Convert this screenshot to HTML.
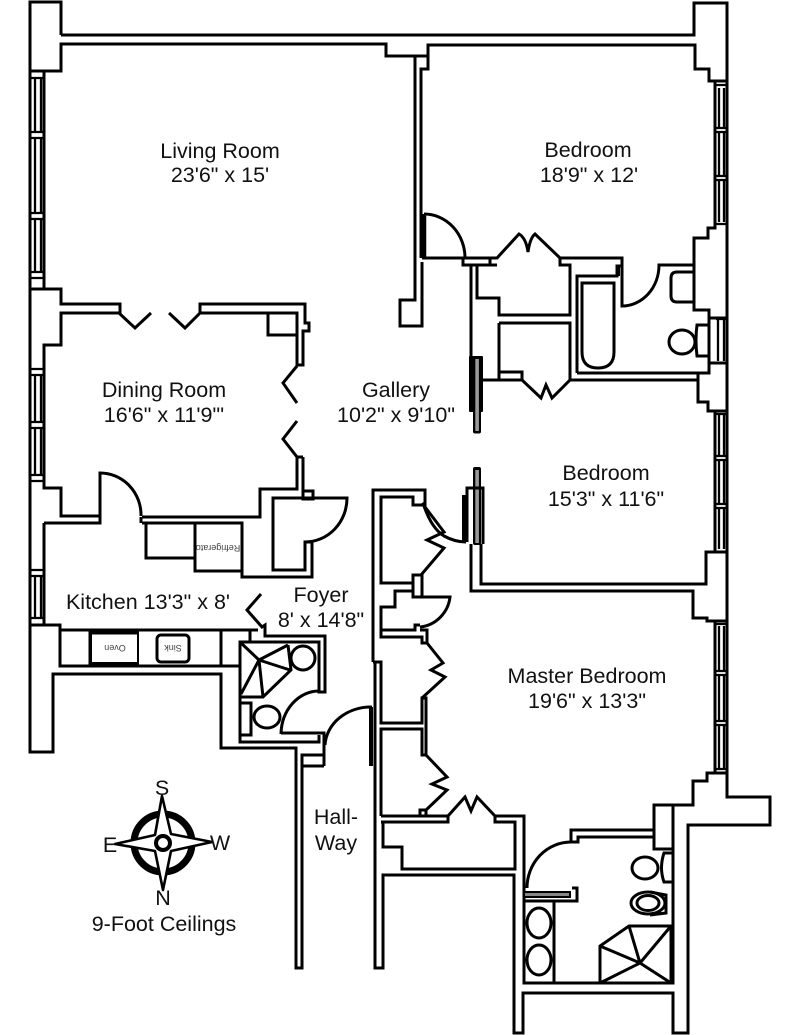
<!DOCTYPE html>
<html><head><meta charset="utf-8"><style>
html,body{margin:0;padding:0;background:#fff;width:800px;height:1035px;overflow:hidden}
svg{display:block}
text{font-family:"Liberation Sans",sans-serif;font-size:21.5px;fill:#111;text-anchor:middle}
.s{fill:none;stroke:#000;stroke-width:3;stroke-linejoin:miter}
</style></head><body>
<svg width="800" height="1035" viewBox="0 0 800 1035" xmlns="http://www.w3.org/2000/svg">
<g class="s">
<!-- outer top / right -->
<path d="M61,35V2H30V752H53V674H221V748H296V968H302V755H324V733H281M324,766H302V755M324,755V766"/>
<path d="M61,35H694V3H727V797H770V825H688V1033H673V993H523V1033H514V875H383V968H375V662"/>
<path d="M30,71H61V44H386V56H428V45H695V69H709V81H727"/>
<path d="M428,56V69H421V258"/>
<path d="M415,56V300H400V326H422V262"/>
<!-- dining -->
<path d="M44,72V289H30M44,289H61V304H120V314L135,328L151,313M169,313L185,328L200,313V304H305V323H309V331H303V365H297V313H200M120,313H61V345H44V488H61V516H100"/>
<path d="M44,523H100V473A41,42 0 0 1 141,516M141,517V523M142,517H260V489H297V457L283,439L297,421M297,403L283,383L297,366M303,457H297M303,457V491H313V499H303V491"/>
<path d="M268,314V335H297"/>
<path d="M44,523V625H30M44,625H60V666H240M60,630H258"/>
<path d="M90,630V666M221,630V666M250,630V642"/>
<!-- fridge, closet -->
<path d="M142,523H242V577H312V542H305V570H273V498H347A42,44 0 0 1 305,542"/>
<path d="M146,523V558H195V523M195,558V571H241"/>
<!-- foyer -->
<path d="M261,594L247,610L262,627L265,625V636H325V692H319V642H240V742H319V735"/>
<path d="M319,691A38,44 0 0 0 281,734"/>
<path d="M325,745A46,40 0 0 1 372,707"/>
<path d="M288,645L291,670L263,697H241M259,660L288,645M259,660L241,643M259,660L241,694M259,660L263,697M259,660L290,670"/>
<circle cx="303" cy="658" r="12"/>
<ellipse cx="267" cy="717" rx="13" ry="11"/>
<path d="M241,703H251V735H241"/>
<!-- sink -->
<rect x="157" y="635" width="32" height="27" rx="4"/>
<!-- bedroom upper -->
<path d="M424,214A41,44 0 0 1 465,258"/>
<path d="M424,214V258" stroke-width="4.5"/>
<path d="M422,258H497L519,234Q526,238 528,252Q530,238 535,234L560,258H622V306A37,41 0 0 0 659,265H694V238H708V228H715V81"/>
<path d="M463,258V265H497M490,258V265M560,258V265H568"/>
<path d="M568,265H570V315H499V298H477V265"/>
<path d="M471,265V357"/>
<path d="M499,323H570V380M499,323V380M498,372H522V380L541,398L546,385L552,398L570,380H698V373"/>
<path d="M482,380H522"/>
<path d="M577,373V276H617V266H622"/>
<path d="M582,283H614V352Q614,368 598,368Q582,368 582,352Z"/>
<path d="M577,373H709V310H694V265M709,318H727M709,363H727"/>
<path d="M693,272H677Q671,272 671,278V296Q671,302 677,302H693"/>
<ellipse cx="682" cy="342" rx="13" ry="12"/>
<path d="M708,325H697Q695,340 697,356H708"/>
<!-- bedroom 2 -->
<path d="M698,380V402H708V411H715V552H706V584H481V544"/>
<path d="M727,552H706"/>
<path d="M471,544V591H693V618H707V621H715V773H707V781H693V805H654V849H673"/>
<path d="M727,411H708M727,621H707M727,773H715"/>
<!-- master bath -->
<path d="M673,805V983H524V888M527,888M572,888H577V901H524"/>
<path d="M524,892V816H495L477,797L471,811L465,797L448,816V822H381M448,816H381"/>
<path d="M495,816V822H515V869H402V847H383V822"/>
<path d="M654,830H571V842H578V837H654"/>
<path d="M571,842A44,46 0 0 0 527,888"/>
<path d="M554,901V983"/>
<ellipse cx="539" cy="923" rx="12" ry="15"/>
<ellipse cx="539" cy="960" rx="12" ry="15"/>
<ellipse cx="645" cy="868" rx="13" ry="11"/>
<path d="M673,853H664Q659,868 664,882H673"/>
<ellipse cx="648" cy="903" rx="17" ry="11"/>
<ellipse cx="648" cy="903" rx="11" ry="7.5"/>
<path d="M650,892L666,895V913L650,915"/>
<path d="M600,983V946L629,926H671V983M640,963L600,946M640,963L629,926M640,963L671,926M640,963L671,983M640,963L600,983"/>
<!-- closets -->
<path d="M373,662V490H425V505H413V497H381V583H413V575H422V597M413,583V597H450A34,34 0 0 1 420,627"/>
<path d="M373,662H381V723H422V698H426V755H422V729H381V816"/>
<path d="M413,591H395V607H381V637H422V643H427V630H420M381,630H415V625H420"/>
<path d="M427,643L443,663L431,670L445,677L422,698"/>
<path d="M422,503L444,532L427,540L444,548L421,575"/>
<path d="M423,503Q431,528 444,536Q455,542 466,542"/>
<path d="M426,755L447,777L432,784L447,790L425,811"/>
<path d="M420,816V810H426V816"/>
</g>
<!-- oven -->
<path d="M91,633V663M138,633V663" stroke="#000" stroke-width="2" fill="none"/>
<path d="M90,632.5H139M90,664H139" stroke="#000" stroke-width="4" fill="none"/>
<!-- window details -->
<path fill="none" stroke="#000" stroke-width="2.3" d="M35,79V131M41,79V131M35,139V212M41,139V212M35,220V271M41,220V271M35,376V421M41,376V421M35,429V474M41,429V474M35,576V618M41,576V618M719,88V127M724,88V127M719,133V175M724,133V175M719,181V222M724,181V222M718,320V361M724,320V361M719,415V455M724,415V455M719,461V503M724,461V503M719,509V549M724,509V549M719,626V670M724,626V670M719,676V720M724,676V720M719,726V768M724,726V768"/>
<path fill="none" stroke="#000" stroke-width="2.3" d="M30,78H44M30,132H44M30,138H44M30,213H44M30,219H44M30,272H44M30,278H44M30,369H44M30,375H44M30,422H44M30,428H44M30,475H44M30,481H44M30,570H44M30,576H44M30,618H44M716,85H727M716,128H727M716,132H727M716,176H727M716,180H727M716,224H727M716,319H727M716,414H727M716,456H727M716,460H727M716,504H727M716,508H727M716,624H727M716,671H727M716,675H727M716,721H727M716,725H727M716,769H727"/>
<!-- sliding doors -->
<rect x="469" y="356" width="14" height="56" rx="1" fill="#000"/>
<rect x="473" y="410" width="8" height="23.5" rx="2" fill="#000"/>
<rect x="475.3" y="359" width="3.6" height="72" fill="#999"/>
<rect x="473" y="467" width="8" height="78" rx="2" fill="#000"/>
<rect x="475.3" y="470" width="3.6" height="73" fill="#999"/>
<rect x="462" y="495" width="5" height="47" fill="#000"/>
<path d="M467,542V488H483V544" stroke="#000" stroke-width="3" fill="none"/>
<path d="M371,707V766" stroke="#000" stroke-width="4"/>
<rect x="524" y="892" width="46" height="5" fill="#888" stroke="#000" stroke-width="2"/>
<path d="M618,266V276" stroke="#000" stroke-width="4"/>
<!-- compass -->
<circle cx="163" cy="843" r="29" fill="none" stroke="#000" stroke-width="7"/>
<path d="M162,796L171,834L212,842L171,851L163,890L155,851L115,844L155,835Z" fill="#fff" stroke="#000" stroke-width="2.6" stroke-linejoin="round"/>
<circle cx="163" cy="843" r="7" fill="#fff" stroke="#000" stroke-width="4"/>
<!-- labels -->
<text x="220" y="158">Living Room</text>
<text x="220" y="182">23'6" x 15'</text>
<text x="588" y="157">Bedroom</text>
<text x="589" y="182">18'9" x 12'</text>
<text x="164" y="397">Dining Room</text>
<text x="164" y="422">16'6" x 11'9"'</text>
<text x="396" y="397">Gallery</text>
<text x="396" y="422">10'2" x 9'10"</text>
<text x="606" y="480">Bedroom</text>
<text x="606" y="506">15'3" x 11'6"</text>
<text x="148" y="609">Kitchen 13'3" x 8'</text>
<text x="321" y="602">Foyer</text>
<text x="321" y="627">8' x 14'8"</text>
<text x="587" y="683">Master Bedroom</text>
<text x="587" y="708">19'6" x 13'3"</text>
<text x="336" y="824">Hall-</text>
<text x="336" y="850">Way</text>
<text x="164" y="931">9-Foot Ceilings</text>
<text x="162" y="795">S</text>
<text x="163" y="905">N</text>
<text x="110" y="852">E</text>
<text x="220" y="850">W</text>
<text transform="rotate(180 218 548)" x="218" y="551" style="font-size:9px;fill:#444">Refrigerato</text>
<text transform="rotate(180 115 648)" x="115" y="651" style="font-size:9px;fill:#444">Oven</text>
<text transform="rotate(180 173 648)" x="173" y="651" style="font-size:9px;fill:#444">Sink</text>
</svg>
</body></html>
